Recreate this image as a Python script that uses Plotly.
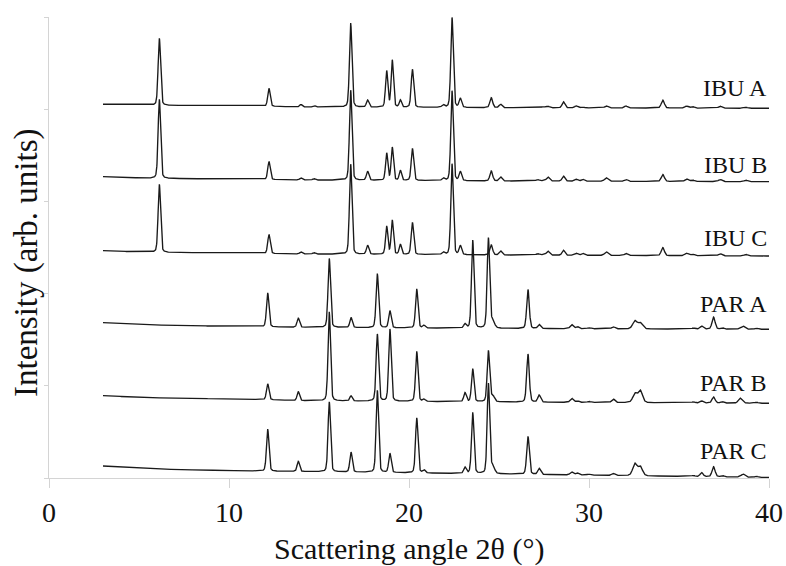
import numpy as np
import plotly.graph_objects as go

# ---- data (intensity in arbitrary units) ----
ibu_pos = [6.13, 12.22, 14.0, 14.72, 16.76, 17.70, 18.76, 19.07, 19.52, 20.19, 21.90, 22.39, 22.85,
           24.57, 25.09, 27.15, 27.46, 27.72, 28.58, 29.29, 29.65, 30.96, 32.05, 34.10, 35.42, 35.75,
           37.28, 38.71]
ibu_fwhm = [0.16, 0.16, 0.16, 0.16, 0.16, 0.16, 0.15, 0.15, 0.15, 0.16, 0.16, 0.16, 0.16,
            0.18, 0.18, 0.2, 0.2, 0.2, 0.18, 0.2, 0.2, 0.22, 0.2, 0.2, 0.22, 0.22, 0.22, 0.22]
ibu_a_int = [67, 18, 2.5, 1.5, 84, 7, 36, 47, 7, 38, 2.5, 90, 9,
             10, 3.5, 0.5, 1, 1.5, 6, 2, 0.8, 2, 2, 8, 2, 1.5, 2, 1]
ibu_b_int = [79, 18, 2, 1.5, 90, 9, 27, 33, 10, 32, 2.5, 90, 9,
             10, 4, 1.5, 0.5, 4, 5, 2, 2, 3.5, 2, 7, 2.5, 1.5, 2, 1.5]
ibu_c_int = [68, 19, 2, 1.5, 90, 9, 28, 34, 10, 32, 2.5, 91, 9,
             10, 4, 1.5, 0.5, 4, 5, 2, 2, 3.5, 2, 8, 2.5, 1.5, 2, 1.5]

par_pos = [12.15, 13.85, 15.57, 16.78, 18.24, 18.94, 20.43, 20.83, 23.11, 23.54, 24.41, 24.65,
           26.61, 27.23, 29.04, 29.35, 30.0, 31.35, 32.55, 32.85, 35.80, 36.26, 36.92, 37.40,
           38.39, 38.57, 39.30]
par_fwhm = [0.16, 0.16, 0.16, 0.16, 0.16, 0.16, 0.16, 0.16, 0.16, 0.16, 0.16, 0.22,
            0.17, 0.18, 0.2, 0.2, 0.2, 0.2, 0.28, 0.28, 0.2, 0.2, 0.2, 0.2,
            0.22, 0.22, 0.2]
par_a_int = [34, 9, 69, 10, 54, 17, 39, 2.5, 4, 88, 90, 8,
             39, 4, 4, 2, 1, 2, 8, 6, 1, 3, 12, 1.5, 0.5, 3, 1]
par_b_int = [16, 9, 89, 5, 67, 72, 50, 2, 9, 33, 51, 6,
             48, 7, 4, 1.5, 1, 3.5, 9, 12, 1, 2, 6, 1.5, 5, 0.5, 1]
par_c_int = [42, 10, 70, 20, 82, 19, 55, 3, 6, 61, 90, 8,
             38, 6, 3, 2, 1, 2, 12, 9, 1, 4, 10, 1.5, 0.5, 3, 1]

# background level (incl. stacking offset) at a few angles
bg_angle = [3, 5.6, 11.2, 14, 25, 40]
ibu_a_bg = [373.7, 372.7, 372.0, 371.0, 370.3, 369.7]
ibu_b_bg = [301.3, 299.7, 298.7, 298.0, 297.0, 296.3]
ibu_c_bg = [227.3, 225.7, 224.7, 224.0, 223.0, 222.0]
par_a_bg = [155.3, 153.0, 151.3, 150.7, 149.5, 148.7]
par_b_bg = [82.3, 80.3, 78.7, 77.3, 76.0, 74.7]
par_c_bg = [12.0, 9.0, 7.0, 6.5, 4.0, 0.5]

labels = ["IBU A", "IBU B", "IBU C", "PAR A", "PAR B", "PAR C"]
label_y = [389.7, 313.0, 239.7, 173.8, 95.5, 26.7]

x_ticks = [0, 10, 20, 30, 40]

# ---- build patterns ----
theta = np.arange(3.0, 40.0001, 0.01)


def pattern(pos, fwhm, inten, bg):
    y = np.interp(theta, bg_angle, bg)
    for p, w, h in zip(pos, fwhm, inten):
        d2 = 4.0 * (theta - p) ** 2 / (w ** 2)
        y = y + h * (0.75 * np.exp(-np.log(2) * d2) + 0.25 / (1.0 + d2))
    return y


series = [
    (ibu_pos, ibu_fwhm, ibu_a_int, ibu_a_bg),
    (ibu_pos, ibu_fwhm, ibu_b_int, ibu_b_bg),
    (ibu_pos, ibu_fwhm, ibu_c_int, ibu_c_bg),
    (par_pos, par_fwhm, par_a_int, par_a_bg),
    (par_pos, par_fwhm, par_b_int, par_b_bg),
    (par_pos, par_fwhm, par_c_int, par_c_bg),
]

fig = go.Figure()
for name, (p, w, h, b) in zip(labels, series):
    fig.add_trace(go.Scatter(x=theta, y=pattern(p, w, h, b), mode="lines", name=name,
                             line=dict(color="#1a1a1a", width=1.35), showlegend=False,
                             hoverinfo="skip"))

FONT = "Liberation Serif, Times New Roman, serif"
for name, yv in zip(labels, label_y):
    fig.add_annotation(x=40, y=yv, xref="x", yref="y", text=name, showarrow=False,
                       xanchor="right", yanchor="middle",
                       font=dict(family=FONT, size=24, color="#111"))

fig.add_annotation(x=0, y=0.4664, xref="paper", yref="paper", xshift=-22,
                   text="Intensity (arb. units)", textangle=-90, showarrow=False,
                   xanchor="center", yanchor="middle",
                   font=dict(family=FONT, size=33, color="#111"))
fig.add_annotation(x=0.5, y=0, xref="paper", yref="paper", yshift=-71,
                   text="Scattering angle 2θ (°)", showarrow=False,
                   xanchor="center", yanchor="middle",
                   font=dict(family=FONT, size=30, color="#111"))

fig.update_layout(
    width=786, height=566,
    margin=dict(l=49, r=17, t=17, b=88, autoexpand=False),
    paper_bgcolor="white", plot_bgcolor="white",
    font=dict(family=FONT, color="#111"),
)
fig.update_xaxes(range=[0, 40], tickvals=x_ticks, ticktext=[str(t) for t in x_ticks],
                 showline=True, linecolor="#d4d4d4", linewidth=1,
                 ticks="outside", ticklen=9, tickcolor="#d4d4d4", automargin=False,
                 showgrid=False, zeroline=False, ticklabeloverflow="allow",
                 tickfont=dict(family=FONT, size=28, color="#111"))
fig.update_yaxes(range=[0, 461], tickvals=[0, 92.2, 184.4, 276.6, 368.8, 461],
                 showticklabels=False, showline=True, linecolor="#d4d4d4", linewidth=1,
                 ticks="outside", ticklen=4, tickcolor="#d4d4d4", automargin=False,
                 showgrid=False, zeroline=False)

# remove the browser's default 8px body margin so the 786x566 figure sits at (0, 0)
fig.write_html("out.html", config={"displayModeBar": False, "responsive": False},
               post_script="document.body.style.margin='0';document.body.style.overflow='hidden';")
